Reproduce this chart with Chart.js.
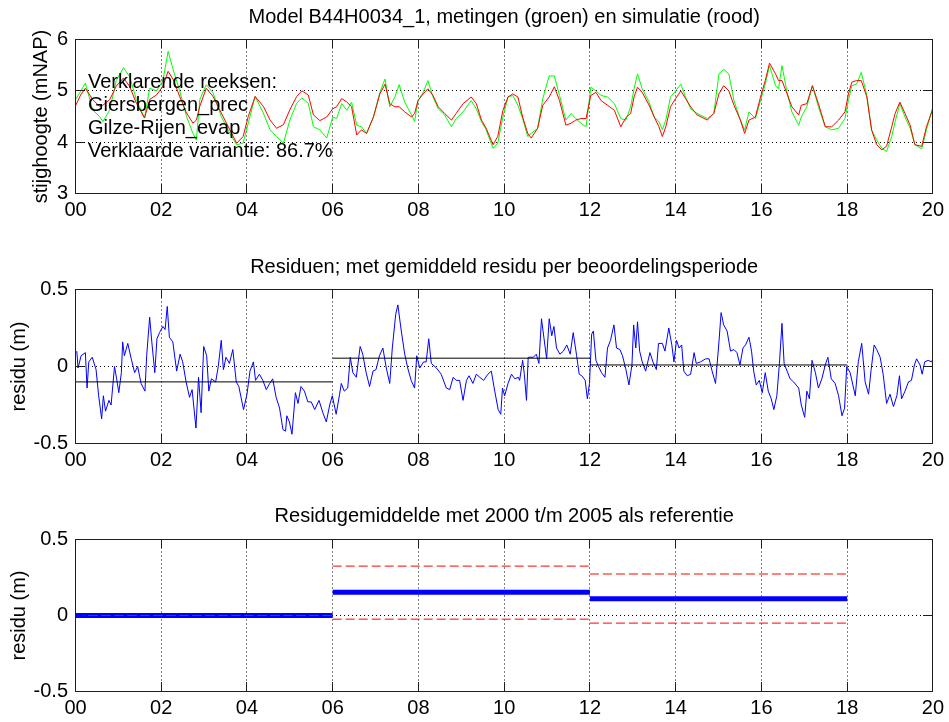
<!DOCTYPE html>
<html>
<head>
<meta charset="utf-8">
<script src="https://cdn.jsdelivr.net/npm/chart.js@4.4.1/dist/chart.umd.min.js"></script>
<style>
  body { margin: 0; background: #fff; }
  #wrap { position: relative; width: 949px; height: 722px; }
  canvas { position: absolute; left: 0; }
</style>
</head>
<body>
<div id="wrap">
  <canvas id="c1" width="949" height="240" style="top:0px"></canvas>
  <canvas id="c2" width="949" height="250" style="top:240px"></canvas>
  <canvas id="c3" width="949" height="232" style="top:490px"></canvas>
</div>
<script>
// ===== DATA =====
const xTickYears = [0, 2, 4, 6, 8, 10, 12, 14, 16, 18, 20];
const xTickLabels = ["00", "02", "04", "06", "08", "10", "12", "14", "16", "18", "20"];

const headTicks = [3, 4, 5, 6];
const headTickLabels = ["3", "4", "5", "6"];
const resTicks = [-0.5, 0, 0.5];
const resTickLabels = ["-0.5", "0", "0.5"];

// years since 2000
const headYears = [
  0, 0.12, 0.23, 0.40, 0.56, 0.64, 0.80,
  0.95, 1.12, 1.26, 1.42, 1.61, 1.73, 1.89,
  2.04, 2.16, 2.28, 2.43, 2.59, 2.74, 2.82, 2.90,
  3.05, 3.21, 3.40, 3.60, 3.76, 3.91,
  4.03, 4.19, 4.38, 4.54, 4.69, 4.85,
  5.00, 5.16, 5.28, 5.43, 5.55, 5.70, 5.86,
  6.00, 6.09, 6.21, 6.33, 6.44, 6.56, 6.67, 6.79, 6.95,
  7.10, 7.22, 7.33, 7.45, 7.55, 7.68, 7.84, 7.91, 7.99,
  8.11, 8.22, 8.34, 8.46, 8.61, 8.77, 8.88,
  9.04, 9.23, 9.35, 9.47, 9.58, 9.74, 9.85, 9.97,
  10.09, 10.20, 10.32, 10.43, 10.55, 10.63, 10.78, 10.90,
  11.05, 11.17, 11.29, 11.44, 11.56, 11.67, 11.79, 11.91,
  12.02, 12.14, 12.26, 12.41, 12.57, 12.72, 12.84, 12.95,
  13.03, 13.11, 13.22, 13.38, 13.50, 13.61, 13.69, 13.77, 13.88,
  14.00, 14.12, 14.23, 14.35, 14.50, 14.74, 14.89,
  15.01, 15.12, 15.24, 15.36, 15.51, 15.61, 15.71, 15.86, 15.98,
  16.09, 16.19, 16.33, 16.40, 16.48, 16.60, 16.71, 16.87, 16.93,
  17.06, 17.19, 17.33, 17.49, 17.64, 17.80, 17.95,
  18.03, 18.11, 18.22, 18.33, 18.46, 18.57, 18.69, 18.81, 18.92,
  19.04, 19.12, 19.23, 19.35, 19.47, 19.58, 19.74, 19.85,
  20.00
];
// simulatie (rood), mNAP
const headSim = [
  4.71, 4.92, 5.05, 4.83, 4.70, 4.72, 4.83,
  5.09, 5.25, 5.09, 4.76, 4.47, 4.83, 4.92,
  5.09, 5.38, 5.22, 4.89, 4.57, 4.37, 4.43, 4.70,
  5.05, 4.89, 4.57, 4.24, 3.98, 4.11,
  4.50, 4.89, 4.70, 4.43, 4.27, 4.34,
  4.63, 4.89, 5.00, 4.92, 4.53, 4.42, 4.49,
  4.65, 4.69, 4.85, 4.78, 4.69, 4.14, 4.24, 4.17, 4.49,
  4.94, 5.13, 4.75, 4.69, 4.69, 4.59, 4.49, 4.56, 4.81,
  4.94, 5.04, 4.91, 4.69, 4.56, 4.43, 4.56,
  4.75, 4.88, 4.75, 4.43, 4.27, 3.95, 4.11, 4.62,
  4.88, 4.94, 4.88, 4.49, 4.17, 4.08, 4.27, 4.72,
  4.88, 5.08, 4.81, 4.33, 4.37, 4.43, 4.46, 4.46,
  4.91, 4.97, 4.81, 4.72, 4.62, 4.30, 4.48, 4.56,
  4.88, 5.07, 4.97, 4.72, 4.49, 4.30, 4.11, 4.30, 4.69,
  4.85, 5.00, 4.85, 4.69, 4.53, 4.43, 4.56,
  4.94, 5.10, 5.00, 4.72, 4.43, 4.17, 4.43, 4.49, 4.88,
  5.20, 5.54, 5.33, 5.20, 5.20, 4.94, 4.69, 4.53, 4.72,
  4.75, 5.10, 4.75, 4.30, 4.30, 4.43, 4.59,
  4.94, 5.17, 5.20, 5.20, 4.88, 4.24, 3.95, 3.85, 3.92,
  4.30, 4.56, 4.78, 4.56, 4.33, 3.95, 3.92, 4.30,
  4.65
];
// metingen (groen), mNAP
const headObs = [
  4.83, 4.99, 5.15, 4.63, 4.50, 4.40, 4.63,
  5.20, 5.45, 5.28, 4.83, 4.47, 5.05, 5.00,
  5.20, 5.77, 5.41, 5.00, 4.50, 4.17, 4.04, 4.83,
  5.12, 4.96, 4.50, 4.17, 3.95, 3.98,
  4.37, 4.89, 4.57, 4.24, 4.11, 3.98,
  4.43, 4.76, 4.86, 4.76, 4.30, 4.24, 4.08,
  4.49, 4.46, 4.75, 4.62, 4.78, 4.33, 4.30, 4.17, 4.49,
  4.97, 5.23, 4.69, 4.88, 5.12, 4.78, 4.53, 4.40, 4.81,
  4.97, 5.20, 4.88, 4.65, 4.53, 4.30, 4.46,
  4.59, 4.81, 4.65, 4.40, 4.24, 3.88, 3.98, 4.49,
  4.88, 4.91, 4.72, 4.46, 4.11, 4.17, 4.27, 4.85,
  5.29, 5.29, 4.91, 4.43, 4.56, 4.46, 4.37, 4.30,
  5.07, 5.00, 4.91, 4.88, 4.75, 4.46, 4.43, 4.69,
  5.04, 5.33, 5.04, 4.78, 4.49, 4.40, 4.24, 4.43, 4.88,
  5.00, 5.13, 4.88, 4.65, 4.56, 4.46, 4.56,
  5.33, 5.42, 5.33, 4.81, 4.43, 4.24, 4.59, 4.46, 4.81,
  5.13, 5.49, 5.10, 5.04, 5.49, 4.97, 4.59, 4.33, 4.49,
  4.69, 5.10, 4.69, 4.30, 4.24, 4.27, 4.46,
  4.81, 5.10, 5.13, 5.36, 4.91, 4.24, 4.04, 3.88, 3.82,
  4.11, 4.40, 4.75, 4.49, 4.27, 3.95, 3.87, 4.24,
  4.69
];
const explanation = ["Verklarende reeksen:", "Giersbergen_prec", "Gilze-Rijen_evap", "Verklaarde variantie: 86.7%"];

const resYears = [
  0.03, 0.06, 0.13, 0.23, 0.27, 0.31, 0.39, 0.48, 0.54, 0.61, 0.65, 0.70, 0.78, 0.83, 0.91, 0.96,
  1.01, 1.07, 1.10, 1.14, 1.22, 1.30, 1.38, 1.45, 1.53, 1.62, 1.66, 1.73, 1.78, 1.85, 1.90, 1.96,
  2.04, 2.09, 2.14, 2.19, 2.27, 2.36, 2.44, 2.50, 2.58, 2.66, 2.72, 2.81, 2.87, 2.93, 2.99,
  3.06, 3.11, 3.17, 3.27, 3.33, 3.40, 3.45, 3.51, 3.59, 3.67, 3.75, 3.81, 3.92,
  4.00, 4.07, 4.15, 4.20, 4.29, 4.37, 4.45, 4.53, 4.60, 4.68, 4.76, 4.84, 4.90, 4.93, 4.99,
  5.05, 5.13, 5.19, 5.26, 5.34, 5.42, 5.50, 5.58, 5.68, 5.77, 5.85, 5.93, 5.99,
  6.08, 6.16, 6.20, 6.27, 6.35, 6.41, 6.47, 6.55, 6.64, 6.70, 6.78, 6.86, 6.94,
  7.01, 7.09, 7.17, 7.25, 7.33, 7.39, 7.47, 7.52, 7.60, 7.68, 7.75, 7.83, 7.91, 7.96,
  8.03, 8.12, 8.18, 8.24, 8.30, 8.42, 8.53, 8.65, 8.73, 8.81, 8.88, 8.96,
  9.04, 9.12, 9.18, 9.27, 9.35, 9.43, 9.52, 9.62, 9.70, 9.78, 9.86, 9.92, 9.96,
  10.01, 10.09, 10.17, 10.25, 10.33, 10.36, 10.43, 10.47, 10.52, 10.56, 10.68, 10.75, 10.81, 10.87, 10.93, 10.99,
  11.05, 11.11, 11.16, 11.22, 11.30, 11.38, 11.46, 11.54, 11.61, 11.69, 11.75, 11.81, 11.89, 11.94, 11.99,
  12.04, 12.08, 12.14, 12.20, 12.27, 12.35, 12.41, 12.48, 12.56, 12.62, 12.70, 12.76, 12.84, 12.91, 12.98,
  13.02, 13.07, 13.11, 13.16, 13.22, 13.30, 13.40, 13.47, 13.55, 13.60, 13.69, 13.75, 13.84, 13.91, 13.96,
  14.02, 14.08, 14.14, 14.19, 14.27, 14.35, 14.43, 14.48, 14.58, 14.70, 14.78, 14.85, 14.93,
  15.01, 15.06, 15.12, 15.20, 15.28, 15.36, 15.43, 15.50, 15.57, 15.63, 15.71, 15.77, 15.82, 15.88, 15.95,
  16.02, 16.09, 16.16, 16.23, 16.29, 16.36, 16.42, 16.48, 16.53, 16.60, 16.67, 16.75, 16.87, 16.93,
  17.01, 17.06, 17.12, 17.18, 17.26, 17.33, 17.41, 17.49, 17.55, 17.63, 17.72, 17.80, 17.88, 17.94, 17.99,
  18.07, 18.19, 18.26, 18.34, 18.42, 18.50, 18.56, 18.63, 18.69, 18.77, 18.84, 18.92,
  19.00, 19.08, 19.16, 19.22, 19.27, 19.35, 19.43, 19.50, 19.57, 19.62, 19.70, 19.75, 19.81, 19.89, 19.97,
  20.00
];
// residu (m)
const resValues = [
  0.10, -0.01, 0.07, 0.09, -0.14, 0.03, 0.06, -0.02, -0.19, -0.34, -0.19, -0.29, -0.22, -0.25, 0.00, -0.08,
  -0.17, -0.04, 0.16, 0.07, 0.15, 0.05, -0.04, 0.00, -0.11, -0.16, 0.07, 0.32, 0.16, -0.04, 0.18, 0.22,
  0.26, 0.24, 0.39, 0.19, 0.16, -0.03, 0.08, 0.03, -0.10, -0.20, -0.15, -0.40, -0.07, -0.30, 0.13,
  0.07, -0.16, -0.08, -0.10, 0.00, 0.17, -0.02, 0.06, 0.02, 0.11, -0.10, -0.13, -0.28,
  -0.18, -0.03, 0.03, -0.09, -0.05, -0.09, -0.15, -0.11, -0.08, -0.20, -0.27, -0.41, -0.42, -0.32, -0.36,
  -0.44, -0.17, -0.24, -0.13, -0.16, -0.23, -0.23, -0.28, -0.22, -0.30, -0.36, -0.25, -0.19,
  -0.31, -0.18, -0.11, -0.16, -0.14, 0.06, -0.04, -0.07, 0.13, 0.08, -0.04, -0.13, -0.03,
  -0.02, 0.07, 0.12, -0.01, -0.11, 0.12, 0.34, 0.40, 0.23, 0.08, -0.01, -0.09, -0.14, 0.07,
  -0.01, 0.03, 0.03, 0.18, 0.02, -0.01, -0.05, -0.14, -0.15, -0.07, -0.09, -0.09,
  -0.22, -0.09, -0.06, -0.11, -0.05, -0.07, -0.09, -0.05, -0.03, -0.16, -0.28, -0.31, -0.14,
  -0.19, -0.11, -0.05, -0.08, -0.07, -0.09, 0.04, -0.05, -0.22, 0.06, 0.06, 0.08, 0.02, 0.31, 0.18, 0.05,
  0.31, 0.20, 0.26, 0.12, 0.08, 0.10, 0.14, 0.08, 0.22, 0.07, -0.05, -0.06, -0.09, -0.21, -0.11,
  0.21, 0.23, 0.04, 0.00, -0.04, -0.07, 0.12, 0.17, 0.27, 0.12, 0.11, 0.07, -0.02, -0.12, 0.01,
  0.27, 0.12, 0.29, 0.10, 0.03, -0.03, 0.09, 0.03, -0.02, 0.15, 0.15, 0.10, 0.25, 0.14, 0.03,
  0.17, 0.12, 0.14, -0.03, -0.06, -0.05, 0.09, 0.02, 0.03, 0.05, 0.05, -0.03, -0.11,
  0.16, 0.35, 0.27, 0.23, 0.10, 0.11, 0.09, 0.01, 0.12, 0.14, 0.19, 0.10, -0.03, -0.12, -0.09,
  -0.17, -0.04, -0.16, -0.21, -0.28, -0.19, 0.02, 0.28, 0.02, -0.03, -0.08, -0.10, -0.14, -0.25,
  -0.33, -0.16, -0.21, 0.04, -0.04, -0.14, -0.08, 0.01, 0.06, -0.08, -0.11, -0.19, -0.32, -0.27, 0.00,
  -0.04, -0.19, 0.03, 0.15, -0.10, -0.18, -0.02, 0.14, 0.11, 0.06, -0.05, -0.24,
  -0.18, -0.26, -0.19, -0.06, -0.21, -0.16, -0.10, -0.09, 0.01, 0.05, 0.01, -0.05, 0.03, 0.04, 0.03,
  0.05
];

// beoordelingsperiodes
const periodStart = [0, 6, 12];
const periodEnd = [6, 12, 18];
const periodResMean = [-0.10, 0.054, 0.01];

// residugemiddelde t.o.v. referentie 2000 t/m 2005
const refMean = [0, 0.153, 0.111];
const refUpper = [0, 0.325, 0.273];
const refLower = [0, -0.024, -0.05];

// ===== STYLE =====
const FONT = "'Liberation Sans', Arial, sans-serif";
const FS = 20;
const W = 949;
const AREA_LEFT = 75.5;
const AREA_RIGHT = 934.5;
const TICK_LEN = 9;

Chart.defaults.font.family = FONT;
Chart.defaults.color = "#000";
Chart.defaults.elements.line.tension = 0;
Chart.defaults.elements.point.radius = 0;

// ===== HELPERS =====
function pts(xs, ys) {
  return xs.map((x, i) => ({ x: x, y: ys[i] }));
}

function segment(i, vals, color, width, dash) {
  return {
    data: [{ x: periodStart[i], y: vals[i] }, { x: periodEnd[i], y: vals[i] }],
    borderColor: color,
    borderWidth: width,
    borderDash: dash || [],
    borderCapStyle: "butt"
  };
}

// axes box with inward tick marks, matlab style
function drawBox(chart) {
  const ctx = chart.ctx;
  const sx = chart.scales.x;
  const sy = chart.scales.y;
  const l = Math.floor(sx.left), r = Math.floor(sx.right);
  const t = Math.floor(sy.top), b = Math.floor(sy.bottom);
  ctx.save();
  ctx.fillStyle = "#1e1e1e";
  ctx.fillRect(l, t, r - l + 1, 1);
  ctx.fillRect(l, b, r - l + 1, 1);
  ctx.fillRect(l, t, 1, b - t + 1);
  ctx.fillRect(r, t, 1, b - t + 1);
  xTickYears.forEach(v => {
    const p = Math.floor(sx.getPixelForValue(v));
    ctx.fillRect(p, b - TICK_LEN, 1, TICK_LEN);
    ctx.fillRect(p, t, 1, TICK_LEN);
  });
  sy.ticks.forEach(tk => {
    const p = Math.floor(sy.getPixelForValue(tk.value));
    ctx.fillRect(l, p, TICK_LEN, 1);
    ctx.fillRect(r - TICK_LEN, p, TICK_LEN, 1);
  });
  ctx.restore();
}

const decor = {
  id: "decor",
  afterDatasetsDraw(chart) {
    drawBox(chart);
    if (chart.canvas.id === "c1") {
      const ctx = chart.ctx;
      ctx.save();
      ctx.font = FS + "px " + FONT;
      ctx.fillStyle = "#000";
      ctx.textBaseline = "alphabetic";
      explanation.forEach((s, i) => ctx.fillText(s, 88, 87.5 + i * 23));
      ctx.restore();
    }
  }
};

function options(cfg) {
  return {
    responsive: false,
    animation: false,
    events: [],
    layout: { padding: { left: 0, right: W - AREA_RIGHT, top: 0, bottom: 0 } },
    plugins: {
      legend: { display: false },
      tooltip: { enabled: false },
      title: {
        display: true,
        fullSize: false,
        text: cfg.title,
        color: "#000",
        font: { family: FONT, size: FS, weight: "normal", lineHeight: 1.2 },
        padding: cfg.titlePad
      }
    },
    scales: {
      x: {
        type: "linear",
        min: 0,
        max: 20,
        afterBuildTicks: s => { s.ticks = xTickYears.map(v => ({ value: v })); },
        afterFit: s => { s.height = cfg.xHeight; },
        ticks: {
          callback: (v, i) => xTickLabels[i],
          font: { family: FONT, size: FS },
          color: "#000",
          padding: 5,
          maxRotation: 0,
          autoSkip: false
        },
        grid: { color: "#000", lineWidth: 1, drawTicks: false },
        border: { display: false, dash: [1, 3] }
      },
      y: {
        type: "linear",
        min: cfg.yTicks[0],
        max: cfg.yTicks[cfg.yTicks.length - 1],
        afterBuildTicks: s => { s.ticks = cfg.yTicks.map(v => ({ value: v })); },
        afterFit: s => { s.width = AREA_LEFT; },
        ticks: {
          callback: (v, i) => cfg.yLabels[i],
          font: { family: FONT, size: FS },
          color: "#000",
          padding: 7.5
        },
        grid: { color: "#000", lineWidth: 1, drawTicks: false },
        border: { display: false, dash: [1, 3] },
        title: {
          display: true,
          text: cfg.yTitle,
          color: "#000",
          font: { family: FONT, size: FS, lineHeight: 1.2 },
          padding: { top: cfg.yTitlePad, bottom: 0 }
        }
      }
    }
  };
}

// ===== CHART 1: stijghoogte =====
new Chart(document.getElementById("c1"), {
  type: "line",
  data: {
    datasets: [
      { data: pts(headYears, headSim), borderColor: "#ff0000", borderWidth: 1 },
      { data: pts(headYears, headObs), borderColor: "#00ff00", borderWidth: 1 }
    ]
  },
  options: options({
    title: "Model B44H0034_1, metingen (groen) en simulatie (rood)",
    titlePad: { top: 5, bottom: 10.5 },
    xHeight: 46.5,
    yTicks: headTicks,
    yLabels: headTickLabels,
    yTitle: "stijghoogte (mNAP)",
    yTitlePad: 29.5
  }),
  plugins: [decor]
});

// ===== CHART 2: residuen =====
new Chart(document.getElementById("c2"), {
  type: "line",
  data: {
    datasets: [
      segment(0, periodResMean, "#000000", 1),
      segment(1, periodResMean, "#000000", 1),
      segment(2, periodResMean, "#000000", 1),
      { data: pts(resYears, resValues), borderColor: "#0000ff", borderWidth: 1 }
    ]
  },
  options: options({
    title: "Residuen; met gemiddeld residu per beoordelingsperiode",
    titlePad: { top: 15.5, bottom: 10 },
    xHeight: 46.5,
    yTicks: resTicks,
    yLabels: resTickLabels,
    yTitle: "residu (m)",
    yTitlePad: 7
  }),
  plugins: [decor]
});

// ===== CHART 3: residugemiddelde =====
const refSets = [];
periodStart.forEach((_, i) => {
  refSets.push(segment(i, refUpper, "#ff0000", 1, [9, 4]));
  refSets.push(segment(i, refLower, "#ff0000", 1, [9, 4]));
});
periodStart.forEach((_, i) => {
  refSets.push(segment(i, refMean, "#0000ff", 5));
});

new Chart(document.getElementById("c3"), {
  type: "line",
  data: { datasets: refSets },
  options: options({
    title: "Residugemiddelde met 2000 t/m 2005 als referentie",
    titlePad: { top: 14.5, bottom: 11 },
    xHeight: 30.5,
    yTicks: resTicks,
    yLabels: resTickLabels,
    yTitle: "residu (m)",
    yTitlePad: 7
  }),
  plugins: [decor]
});
</script>
</body>
</html>
